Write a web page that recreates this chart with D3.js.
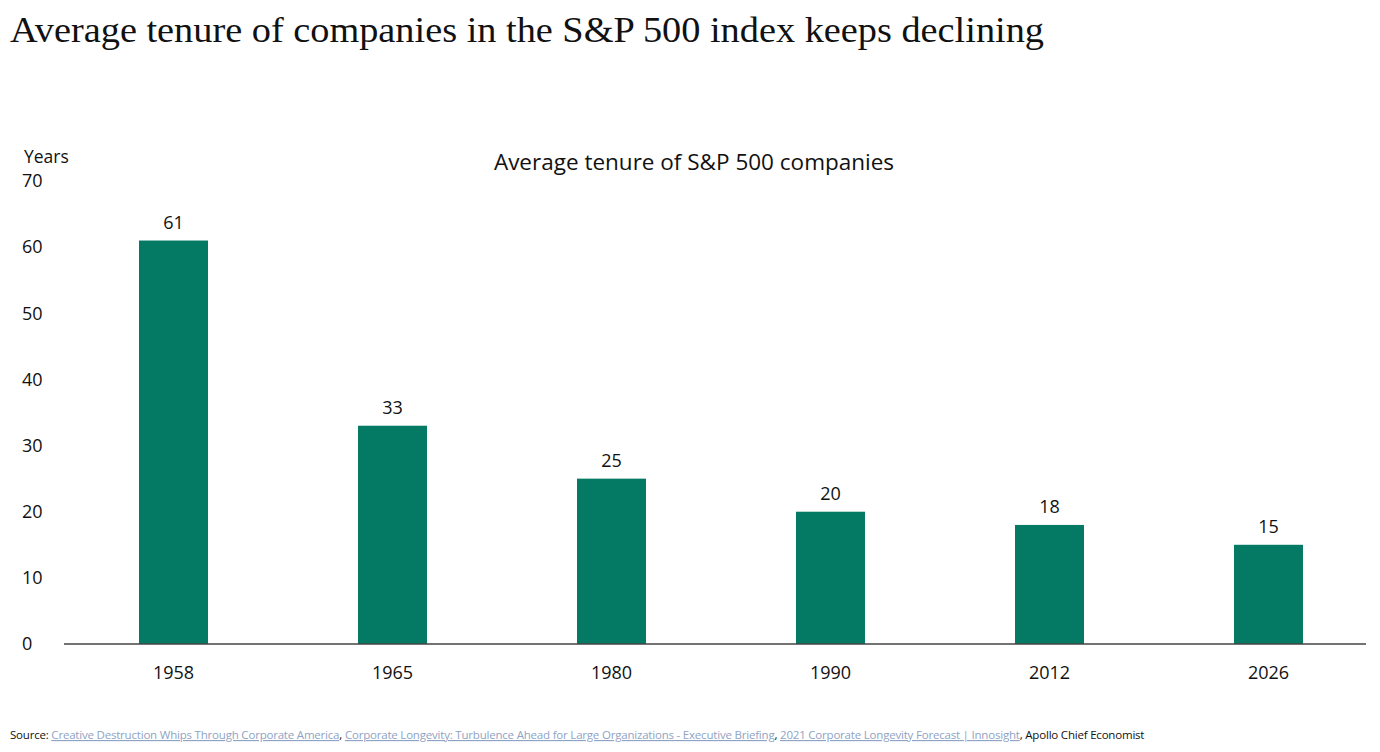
<!DOCTYPE html>
<html>
<head>
<meta charset="utf-8">
<script src="https://cdn.jsdelivr.net/npm/d3@7/dist/d3.min.js"></script>
<style>
  body { margin: 0; background: #fff; }
  svg { display: block; }
</style>
</head>
<body>
<div id="chart"></div>
<script>
// data
var years = ["1958", "1965", "1980", "1990", "2012", "2026"];
var tenure = [61, 33, 25, 20, 18, 15];
var yTicks = [0, 10, 20, 30, 40, 50, 60, 70];

var width = 1380, height = 752;

d3.select("#chart").selectAll("*").remove();

var svg = d3.select("#chart")
  .append("svg")
  .attr("width", width)
  .attr("height", height);

// main title
svg.append("text")
  .attr("x", 10)
  .attr("y", 42)
  .attr("font-family", "Liberation Serif, serif")
  .attr("font-size", 36)
  .attr("fill", "#111")
  .attr("textLength", 1034)
  .attr("lengthAdjust", "spacingAndGlyphs")
  .text("Average tenure of  companies in the S&P 500 index keeps declining");

// scales
var x = d3.scaleBand()
  .domain(years)
  .range([64, 1378])
  .paddingInner(0.685)
  .paddingOuter(0.3425);

var y = d3.scaleLinear()
  .domain([0, 70])
  .range([644, 181]);

var font = "Open Sans, Noto Sans, sans-serif";

// chart title
svg.append("text")
  .attr("x", 694)
  .attr("y", 170)
  .attr("text-anchor", "middle")
  .attr("font-family", font)
  .attr("font-size", 22.5)
  .attr("fill", "#111")
  .text("Average tenure of S&P 500 companies");

// y label
svg.append("text")
  .attr("x", 24)
  .attr("y", 163)
  .attr("font-family", font)
  .attr("font-size", 17.5)
  .attr("fill", "#111")
  .text("Years");

// y axis labels
svg.append("g")
  .selectAll("text")
  .data(yTicks)
  .enter()
  .append("text")
  .attr("x", 22)
  .attr("y", function(d) { return y(d); })
  .attr("dy", "0.35em")
  .attr("font-family", font)
  .attr("font-size", 18)
  .attr("fill", "#111")
  .text(function(d) { return d; });

// bars
var bars = svg.append("g")
  .selectAll("g")
  .data(years)
  .enter()
  .append("g");

bars.append("rect")
  .attr("x", function(d) { return x(d); })
  .attr("width", x.bandwidth())
  .attr("y", function(d, i) { return y(tenure[i]); })
  .attr("height", function(d, i) { return y(0) - y(tenure[i]); })
  .style("fill", "#047a64");

bars.append("text")
  .attr("x", function(d) { return x(d) + x.bandwidth() / 2; })
  .attr("y", function(d, i) { return y(tenure[i]) - 12; })
  .attr("text-anchor", "middle")
  .attr("font-family", font)
  .attr("font-size", 18)
  .attr("fill", "#111")
  .text(function(d, i) { return tenure[i]; });

// x axis
var xAxis = d3.axisBottom(x).tickSize(0).tickPadding(22);
var gx = svg.append("g")
  .attr("transform", "translate(0," + y(0) + ")")
  .call(xAxis);
gx.select(".domain").remove();
gx.selectAll("text")
  .attr("font-family", font)
  .attr("font-size", 18)
  .attr("fill", "#111");

svg.append("line")
  .attr("x1", 64)
  .attr("x2", 1366)
  .attr("y1", y(0))
  .attr("y2", y(0))
  .attr("stroke", "#444")
  .attr("stroke-width", 1.5);

// source line
var src = svg.append("text")
  .attr("x", 10)
  .attr("y", 739)
  .attr("font-family", font)
  .attr("font-size", 11.5)
  .attr("letter-spacing", "-0.2")
  .attr("fill", "#111");

var srcParts = [
  ["Source: ", false],
  ["Creative Destruction Whips Through Corporate America", true],
  [", ", false],
  ["Corporate Longevity: Turbulence Ahead for Large Organizations - Executive Briefing", true],
  [", ", false],
  ["2021 Corporate Longevity Forecast | Innosight", true],
  [", Apollo Chief Economist", false]
];
src.selectAll("tspan")
  .data(srcParts)
  .enter()
  .append("tspan")
  .attr("fill", function(d) { return d[1] ? "#8fa3c4" : "#111"; })
  .attr("text-decoration", function(d) { return d[1] ? "underline" : null; })
  .text(function(d) { return d[0]; });
</script>
</body>
</html>
